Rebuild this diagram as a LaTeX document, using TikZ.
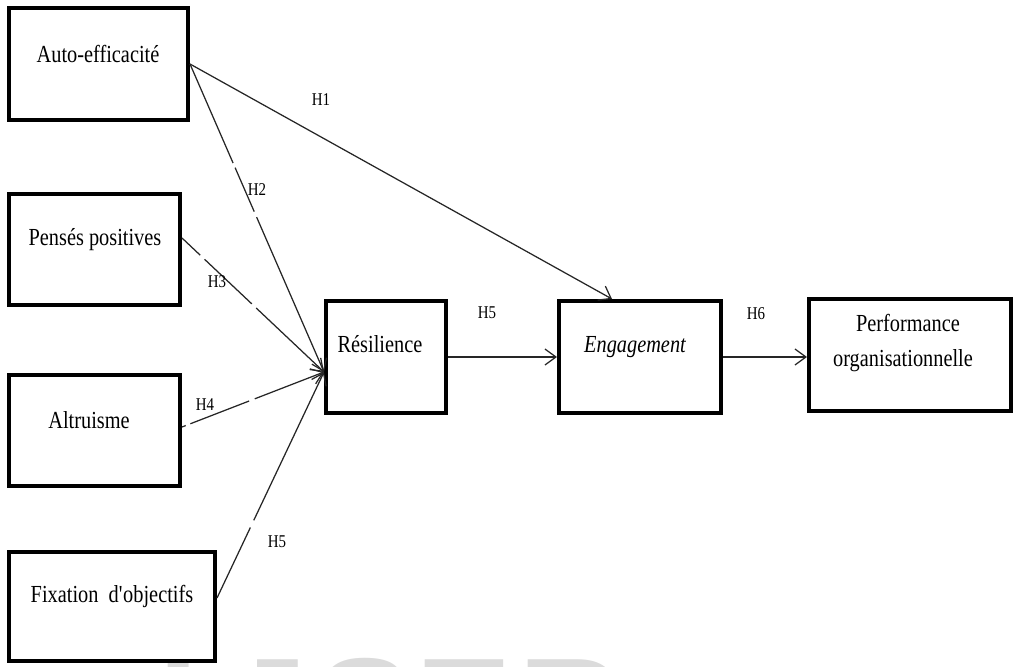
\documentclass[tikz,border=0pt]{standalone}
\usepackage{fontspec}
\setmainfont{Liberation Serif}
\newfontfamily\boxfont[FakeStretch=0.83]{Liberation Serif}
\newfontfamily\wmfont{Liberation Sans}
\usetikzlibrary{arrows.meta}

\tikzset{
  box/.style={draw=black, line width=4pt, inner sep=0pt, outer sep=2pt},
  txt/.style={font={\boxfont\fontsize{24.5}{28}\selectfont}, inner sep=0pt, anchor=base},
  hyp/.style={font={\boxfont\fontsize{18}{20}\selectfont}, inner sep=0pt, anchor=base},
  link/.style={draw=black!85, line width=1.25pt,
    -{Straight Barb[length=11pt,width=16pt,line width=1.25pt]}},
  wm/.style={font={\wmfont\bfseries\fontsize{145}{150}\selectfont}, text=black!14,
    inner sep=0pt, anchor=base west}
}

\begin{document}
\begin{tikzpicture}[x=1pt,y=-1pt]
  \useasboundingbox (0,0) rectangle (1018,667);
  \clip (0,0) rectangle (1018,667);

  % faint watermark letters along the lower edge
  \node[wm] (wmI) at (158,759) {I};
  \node[wm] (wmJ) at (227,759) {J};
  \node[wm] (wmS) at (316,759) {S};
  \node[wm] (wmE) at (415,759) {E};
  \node[wm] (wmR) at (518,759) {R};

  % boxes
  \node[box, minimum width=179pt, minimum height=112pt] (auto) at (98.5,64) {};
  \node[box, minimum width=171pt, minimum height=111pt] (pens) at (94.5,249.5) {};
  \node[box, minimum width=171pt, minimum height=111pt] (altr) at (94.5,430.5) {};
  \node[box, minimum width=206pt, minimum height=109pt] (fixo) at (112,606.5) {};
  \node[box, minimum width=120pt, minimum height=112pt] (resil) at (386,357) {};
  \node[box, minimum width=162pt, minimum height=112pt] (engag) at (640,357) {};
  \node[box, minimum width=202pt, minimum height=112pt] (perf) at (910,355) {};

  % box texts
  \node[txt] (tauto) at (98,62) {Auto-efficacité};
  \node[txt] (tpens) at (95,245) {Pensés positives};
  \node[txt] (taltr) at (89,428) {Altruisme};
  \node[txt] (tfixo) at (112,602) {Fixation~~d\textquotesingle objectifs};
  \node[txt] (tresil) at (380,352) {Résilience};
  \node[txt] (tengag) at (635,352) {\itshape Engagement};
  \node[txt] (tperfa) at (908,331) {Performance};
  \node[txt] (tperfb) at (903,366) {organisationnelle};

  % connectors
  \draw[link] (auto.east) -- ([xshift=-28pt]engag.north);
  \draw[link, dash pattern=on 108pt off 5pt on 48pt off 6pt on 400pt]
    (auto.east) -- ([yshift=-15pt]resil.west);
  \draw[link, dash pattern=on 25pt off 6pt on 65pt off 6pt on 300pt]
    ([yshift=11.5pt]pens.east) -- ([yshift=-15pt]resil.west);
  \draw[link, dash pattern=on 4pt off 5pt on 63pt off 6pt on 300pt]
    ([yshift=3.5pt]altr.east) -- ([yshift=-15pt]resil.west);
  \draw[link, dash pattern=on 78pt off 8pt on 300pt]
    ([yshift=8.5pt]fixo.east) -- ([yshift=-15pt]resil.west);
  \draw[link] (resil.east) -- (engag.west);
  \draw[link] (engag.east) -- (engag.east -| perf.west);

  % hypothesis labels
  \node[hyp] (h1) at (321,105) {H1};
  \node[hyp] (h2) at (257,195) {H2};
  \node[hyp] (h3) at (217,287) {H3};
  \node[hyp] (h4) at (205,410) {H4};
  \node[hyp] (h5a) at (277,547) {H5};
  \node[hyp] (h5b) at (487,318) {H5};
  \node[hyp] (h6) at (756,319) {H6};
\end{tikzpicture}
\end{document}
